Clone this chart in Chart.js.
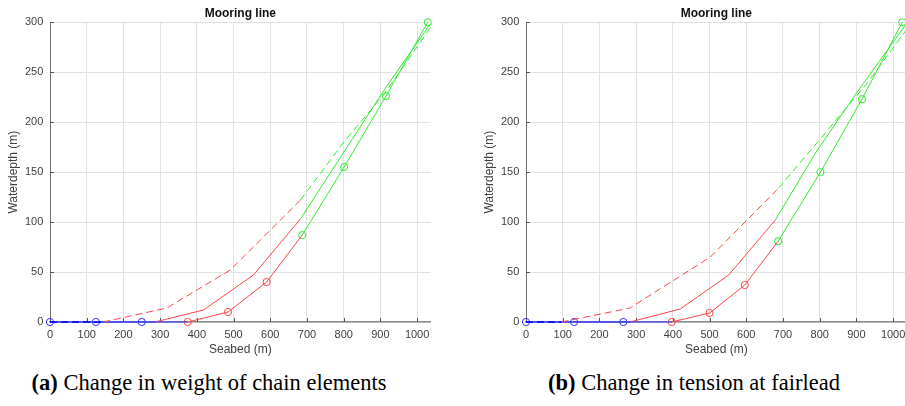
<!DOCTYPE html>
<html><head><meta charset="utf-8">
<script src="https://cdn.jsdelivr.net/npm/chart.js@4.4.0/dist/chart.umd.min.js"></script>
<style>
html,body{margin:0;padding:0;width:905px;height:406px;overflow:hidden;background:#fff;}
#ca{position:absolute;left:0;top:0;}
#cb{position:absolute;left:476px;top:0;}
.cap{position:absolute;top:370px;font-family:"Liberation Serif","Times New Roman",serif;font-size:22.5px;line-height:26px;color:#000;white-space:nowrap;transform:translateX(-50%);}
</style></head><body>
<canvas id="ca" width="450" height="360"></canvas>
<canvas id="cb" width="450" height="360"></canvas>
<div class="cap" style="left:209px"><b>(a)</b> Change in weight of chain elements</div>
<div class="cap" style="left:694px"><b>(b)</b> Change in tension at fairlead</div>
<script>
// ---- tick labels / axis ranges ----
const xTickStep = 100, xMin = 0, xMax = 1037;
const yTickStep = 50, yMin = 0, yMax = 300;
const chartTitle = 'Mooring line';
const xTitle = 'Seabed (m)';
const yTitle = 'Waterdepth (m)';

// ---- (a) Change in weight of chain elements ----
// line with circle markers; segment breaks: [start of red, start of green]
const aMarkX = [0, 125, 250, 375, 485, 590, 687, 801, 915, 1029];
const aMarkY = [0, 0, 0, 0, 10, 40, 87, 155, 226, 300];
const aMarkBreaks = [3, 6];
const aSolidX = [0, 286, 418, 554, 682, 795, 910, 1035];
const aSolidY = [0, 0, 12, 47, 103, 167, 232, 298];
const aSolidBreaks = [1, 4];
const aDashX = [0, 145, 318, 491, 682, 800, 910, 1037];
const aDashY = [0, 0, 14, 52, 122, 180, 228, 295];
const aDashBreaks = [1, 4];

// ---- (b) Change in tension at fairlead ----
const bMarkX = [0, 131, 265, 397, 500, 596, 687, 802, 915, 1025];
const bMarkY = [0, 0, 0, 0, 9, 37, 81, 150, 223, 300];
const bMarkBreaks = [3, 6];
const bSolidX = [0, 283, 420, 552, 679, 790, 900, 1035];
const bSolidY = [0, 0, 13, 47, 102, 170, 229, 298];
const bSolidBreaks = [1, 4];
const bDashX = [0, 97, 283, 502, 688, 810, 929, 1037];
const bDashY = [0, 0, 14, 65, 134, 187, 239, 293];
const bDashBreaks = [1, 4];

const segColors = {
  blueSolid: 'rgba(60,60,255,0.5)',
  blueDash: '#0000ff',
  red: 'rgb(255,70,70)',
  green: 'rgb(45,235,45)',
  blueMark: 'rgb(50,50,255)'
};

function pts(xs, ys, i0, i1) {
  const out = [];
  for (let i = i0; i <= i1; i++) out.push({x: xs[i], y: ys[i]});
  return out;
}

function lineDatasets(xs, ys, breaks, kind) {
  const last = xs.length - 1;
  const parts = [
    {d: pts(xs, ys, 0, breaks[0]), c: kind === 'dash' ? segColors.blueDash : segColors.blueSolid, m: segColors.blueMark, seg: 'b'},
    {d: pts(xs, ys, breaks[0], breaks[1]), c: segColors.red, m: segColors.red, seg: 'r'},
    {d: pts(xs, ys, breaks[1], last), c: segColors.green, m: segColors.green, seg: 'g'}
  ];
  return parts.map(p => {
    const n = p.d.length;
    return {
      data: p.d,
      showLine: true,
      borderColor: p.c,
      borderWidth: p.seg === 'b' ? (kind === 'dash' ? 1.5 : 2) : 1,
      borderDash: kind === 'dash' ? [7, 4] : [],
      pointRadius: kind === 'mark' ? (ctx => (p.seg !== 'g' && ctx.dataIndex === n - 1) ? 0 : 3.6) : 0,
      pointBorderColor: p.m,
      pointBackgroundColor: 'rgba(0,0,0,0)',
      pointBorderWidth: 1,
      pointHoverRadius: 0,
      fill: false,
      tension: 0,
      clip: false
    };
  });
}

const inTicksAndTitle = {
  id: 'inTicksAndTitle',
  beforeDatasetsDraw(chart) {
    const {ctx, chartArea: a, scales: {x, y}} = chart;
    ctx.save();
    ctx.strokeStyle = '#555';
    ctx.lineWidth = 1;
    x.ticks.forEach(t => {
      const px = Math.round(x.getPixelForValue(t.value)) + 0.5;
      ctx.beginPath(); ctx.moveTo(px, a.bottom); ctx.lineTo(px, a.bottom - 4); ctx.stroke();
    });
    y.ticks.forEach(t => {
      const py = Math.round(y.getPixelForValue(t.value)) + 0.5;
      ctx.beginPath(); ctx.moveTo(a.left, py); ctx.lineTo(a.left + 4, py); ctx.stroke();
    });
    ctx.restore();
  },
  afterDraw(chart) {
    const {ctx, chartArea: a} = chart;
    ctx.save();
    ctx.fillStyle = '#111';
    ctx.font = 'bold 12px "Liberation Sans", Arial, sans-serif';
    ctx.textAlign = 'center';
    ctx.textBaseline = 'middle';
    ctx.fillText(chartTitle, (a.left + a.right) / 2, 13.5);
    ctx.restore();
  }
};

const axisFont = {family: '"Liberation Sans", Arial, sans-serif', size: 11};
const titleFont = {family: '"Liberation Sans", Arial, sans-serif', size: 12};

function makeChart(id, sets) {
  const datasets = [];
  sets.forEach(s => datasets.push(...lineDatasets(s[0], s[1], s[2], s[3])));
  return new Chart(document.getElementById(id), {
    type: 'scatter',
    data: {datasets},
    plugins: [inTicksAndTitle],
    options: {
      responsive: false,
      animation: false,
      events: [],
      layout: {padding: {top: 22.3, right: 19.3, left: 0, bottom: 0}},
      plugins: {legend: {display: false}, title: {display: false}, tooltip: {enabled: false}},
      scales: {
        x: {
          type: 'linear', min: xMin, max: xMax,
          ticks: {stepSize: xTickStep, includeBounds: false, padding: 6.4, color: '#404040', font: axisFont, maxRotation: 0, autoSkip: false, callback: v => String(v)},
          grid: {color: '#e2e2e2', drawTicks: false, lineWidth: 1},
          border: {display: true, color: '#8a8a8a', width: 1.5},
          title: {display: true, text: xTitle, color: '#404040', font: titleFont, padding: {top: 0, bottom: 2.8}},
          afterFit(s) { s.height = 38; }
        },
        y: {
          type: 'linear', min: yMin, max: yMax,
          ticks: {stepSize: yTickStep, padding: 6.7, color: '#404040', font: axisFont, callback: v => String(v)},
          grid: {color: '#e2e2e2', drawTicks: false, lineWidth: 1},
          border: {display: true, color: '#707070', width: 1},
          title: {display: true, text: yTitle, color: '#404040', font: titleFont, padding: {top: 6.8, bottom: 0}},
          afterFit(s) { s.width = 50; }
        }
      }
    }
  });
}

makeChart('ca', [
  [aDashX, aDashY, aDashBreaks, 'dash'],
  [aMarkX, aMarkY, aMarkBreaks, 'mark'],
  [aSolidX, aSolidY, aSolidBreaks, 'solid']
]);
makeChart('cb', [
  [bDashX, bDashY, bDashBreaks, 'dash'],
  [bMarkX, bMarkY, bMarkBreaks, 'mark'],
  [bSolidX, bSolidY, bSolidBreaks, 'solid']
]);
</script>
</body></html>
